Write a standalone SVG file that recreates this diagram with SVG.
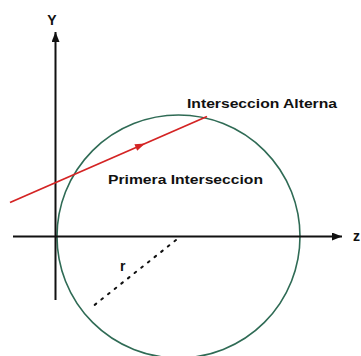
<svg xmlns="http://www.w3.org/2000/svg" width="361" height="356" viewBox="0 0 361 356">
<style>
.lbl{font-family:"Liberation Sans",Arial,sans-serif;font-weight:bold;fill:#111;}
.axis{stroke:#111;stroke-width:2;fill:none;}
</style>
<defs>
<marker id="ah" markerWidth="10" markerHeight="8" refX="10" refY="4" orient="auto" markerUnits="userSpaceOnUse">
<path d="M0,0 L10,4 L0,8 Z" fill="#111"/>
</marker>
</defs>
<rect width="361" height="356" fill="#fff"/>
<g id="circle">
<circle cx="178.5" cy="236.5" r="121.5" fill="none" stroke="#2f6b55" stroke-width="1.6"/>
</g>
<g id="connectors">
<line class="axis" x1="55.5" y1="300" x2="55.5" y2="32" marker-end="url(#ah)"/>
<line class="axis" x1="13" y1="236.5" x2="342" y2="236.5" marker-end="url(#ah)"/>
<line x1="10" y1="202.5" x2="207" y2="116.5" stroke="#d42424" stroke-width="1.8"/>
<path d="M145,143.5 L137.2,150.7 L134.4,144.3 Z" fill="#d42424"/>
<line x1="176" y1="240" x2="92" y2="307" stroke="#111" stroke-width="2" stroke-dasharray="2,6.5" stroke-linecap="round"/>
</g>
<g id="labels">
<text class="lbl" x="52" y="25" font-size="14" text-anchor="middle">Y</text>
<text class="lbl" x="353" y="241" font-size="14">z</text>
<text class="lbl" x="187" y="108" font-size="13" textLength="150" lengthAdjust="spacingAndGlyphs">Interseccion Alterna</text>
<text class="lbl" x="108" y="184" font-size="13" textLength="155" lengthAdjust="spacingAndGlyphs">Primera Interseccion</text>
<text class="lbl" x="120" y="271" font-size="14">r</text>
</g>
</svg>
